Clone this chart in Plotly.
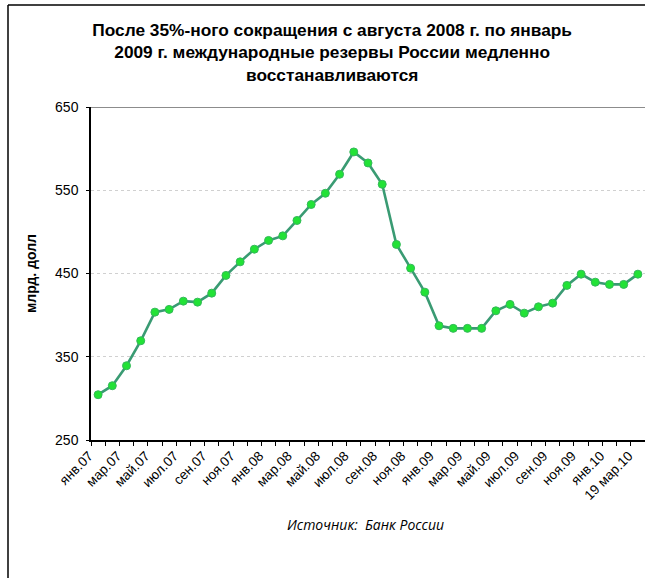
import plotly.graph_objects as go

# Monthly international reserves of Russia, bn USD (Jan 2007 – 19 Mar 2010)
reserves = [
    304.4, 315.2, 339.2, 369.2, 403.6, 406.9, 416.8, 415.6, 426.4, 447.7,
    464.0, 479.2, 489.7, 495.2, 513.7, 532.9, 546.4, 569.2, 596.0, 582.8,
    557.2, 484.9, 456.4, 427.6, 387.2, 384.1, 384.1, 384.1, 405.2, 412.9,
    402.4, 410.0, 414.4, 435.7, 449.2, 439.6, 436.9, 436.9, 449.2,
]

# Axis labels shown on every second month
month_labels = [
    "янв.07", "мар.07", "май.07", "июл.07", "сен.07", "ноя.07",
    "янв.08", "мар.08", "май.08", "июл.08", "сен.08", "ноя.08",
    "янв.09", "мар.09", "май.09", "июл.09", "сен.09", "ноя.09",
    "янв.10", "19 мар.10",
]

y_ticks = [250, 350, 450, 550, 650]

title_text = ("После 35%-ного сокращения с августа 2008 г. по январь<br>"
              "2009 г. международные резервы России медленно<br>"
              "восстанавливаются")
y_title = "млрд. долл"
source_text = "Источник:  Банк России"

W, H = 645, 578
ML, MR, MT, MB = 91, 0, 107, 138

n = len(reserves)
x = list(range(n))

fig = go.Figure()
fig.add_trace(go.Scatter(
    x=x, y=reserves, mode="lines+markers",
    line=dict(color="#3a9b73", width=2.6),
    marker=dict(size=8, color="#22e236", line=dict(color="#34b85a", width=1)),
    hoverinfo="y", showlegend=False,
))

fig.update_layout(
    width=W, height=H,
    margin=dict(l=ML, r=MR, t=MT, b=MB),
    paper_bgcolor="white", plot_bgcolor="white",
    font=dict(family="Liberation Sans, Arial, sans-serif", color="black"),
    title=dict(
        text=title_text, x=0.515, xanchor="center", y=0.938, yanchor="top",
        font=dict(size=17.3, family="Liberation Sans, Arial, sans-serif",
                  color="black", weight="bold"),
    ),
    xaxis=dict(
        range=[-0.5, n - 0.5],
        tickmode="array",
        tickvals=list(range(0, n, 2)),
        ticktext=month_labels,
        tickangle=-45,
        ticks="",
        tickfont=dict(size=13.5),
        ticklabelshift=-9,
        ticklabelstandoff=1,
        showgrid=False, zeroline=False,
        showline=True, linecolor="black", linewidth=1.5,
        minor=dict(tickmode="array",
                   tickvals=[i - 0.5 for i in range(n + 1)],
                   ticks="outside", ticklen=4, tickcolor="black",
                   tickwidth=1, showgrid=False),
    ),
    yaxis=dict(
        range=[250, 650],
        tickmode="array", tickvals=y_ticks,
        ticks="outside", ticklen=3, tickcolor="black",
        tickfont=dict(size=14),
        showgrid=True, gridcolor="#d0d0d0", griddash="dot", gridwidth=1,
        zeroline=False,
        showline=True, linecolor="black", linewidth=1.5,
        ticklabelstandoff=5,
        title=dict(text=y_title, font=dict(size=14, weight="bold"), standoff=15),
    ),
    shapes=[
        # solid upper boundary of the plot
        dict(type="line", xref="paper", yref="y", x0=0, x1=1, y0=650, y1=650,
             line=dict(color="#8c8c8c", width=2)),
        # outer frame: top and left edges
        dict(type="line", xref="paper", yref="paper",
             x0=(8 - ML) / (W - ML - MR), x1=1.0,
             y0=1 + (MT - 5) / (H - MT - MB), y1=1 + (MT - 5) / (H - MT - MB),
             line=dict(color="black", width=1.5)),
        dict(type="line", xref="paper", yref="paper",
             x0=(8 - ML) / (W - ML - MR), x1=(8 - ML) / (W - ML - MR),
             y0=-MB / (H - MT - MB), y1=1 + (MT - 5) / (H - MT - MB),
             line=dict(color="black", width=1.5)),
    ],
    annotations=[
        dict(text=source_text, xref="paper", yref="paper",
             x=(365 - ML) / (W - ML - MR), y=-(524 - (H - MB)) / (H - MT - MB),
             xanchor="center", yanchor="middle", showarrow=False,
             font=dict(size=14, family="Open Sans, sans-serif", style="italic",
                       color="black")),
    ],
)

fig.write_html("out.html")
